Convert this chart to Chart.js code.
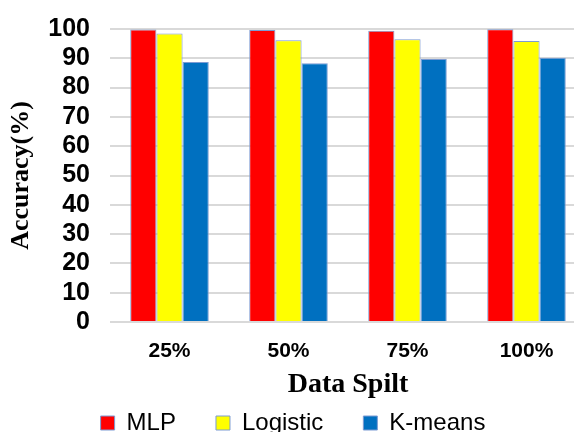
<!DOCTYPE html>
<html>
<head>
<meta charset="utf-8">
<script src="https://cdn.jsdelivr.net/npm/chart.js@4"></script>
<style>
  html, body { margin: 0; padding: 0; background: #fff; overflow: hidden; }
  #wrap { width: 590px; height: 432px; }
</style>
</head>
<body>
<div id="wrap"><canvas id="chart" width="590" height="432"></canvas></div>
<script>
// ── Data ───────────────────────────────────────────────────────────────────
const splits   = ['25%', '50%', '75%', '100%'];
const mlp      = [99.8, 99.7, 99.4, 99.9];
const logistic = [98.5, 96.2, 96.5, 95.9];
const kmeans   = [88.7, 88.3, 89.8, 90.2];

const outline = '#7c9bd3';

// legend: wide horizontal spacing but a fixed band height at the bottom
const legendBand = {
  id: 'legendBand',
  beforeUpdate(chart) {
    const lg = chart.legend;
    if (!lg || lg._banded) return;
    const fit = lg.fit;
    lg.fit = function () {
      fit.call(this);
      this.height = 61;
    };
    lg._banded = true;
  }
};

new Chart(document.getElementById('chart'), {
  type: 'bar',
  data: {
    labels: splits,
    datasets: [
      { label: 'MLP',      data: mlp,      backgroundColor: '#ff0000', borderColor: outline, borderWidth: 1 },
      { label: 'Logistic', data: logistic, backgroundColor: '#ffff00', borderColor: outline, borderWidth: 1 },
      { label: 'K-means',  data: kmeans,   backgroundColor: '#0070c0', borderColor: outline, borderWidth: 1 },
    ]
  },
  options: {
    responsive: false,
    animation: false,
    layout: { padding: { top: 29, right: 4, left: 0, bottom: 0 } },
    datasets: { bar: { categoryPercentage: 0.66, barPercentage: 1.0 } },
    plugins: {
      tooltip: { enabled: false },
      legend: {
        position: 'bottom',
        labels: {
          color: '#000',
          font: { family: 'Liberation Sans, Arial, sans-serif', size: 24 },
          boxWidth: 14,
          boxHeight: 14,
          padding: 40,
        }
      }
    },
    scales: {
      x: {
        grid: { display: false },
        border: { display: false },
        ticks: { color: '#000', padding: 9, font: { family: 'Liberation Sans, Arial, sans-serif', size: 21, weight: 'bold' } },
        title: {
          display: true,
          text: 'Data Spilt',
          color: '#000',
          font: { family: 'Liberation Serif, Times New Roman, serif', size: 28, weight: 'bold' },
          padding: { top: 0, bottom: -31 }
        },
        afterFit: s => { s.height = 49; }
      },
      y: {
        min: 0,
        max: 100,
        grid: { color: '#d9d9d9', lineWidth: 2, drawTicks: false },
        border: { display: false },
        ticks: { stepSize: 10, autoSkip: false, color: '#000', padding: 20, font: { family: 'Liberation Sans, Arial, sans-serif', size: 25, weight: 'bold' } },
        title: {
          display: true,
          text: 'Accuracy(%)',
          color: '#000',
          font: { family: 'Liberation Serif, Times New Roman, serif', size: 26, weight: 'bold' },
          padding: { top: 6, bottom: 0 }
        },
        afterFit: s => { s.width = 110; s.paddingTop = 0; s.paddingBottom = 0; }
      }
    }
  },
  plugins: [legendBand]
});
</script>
</body>
</html>
